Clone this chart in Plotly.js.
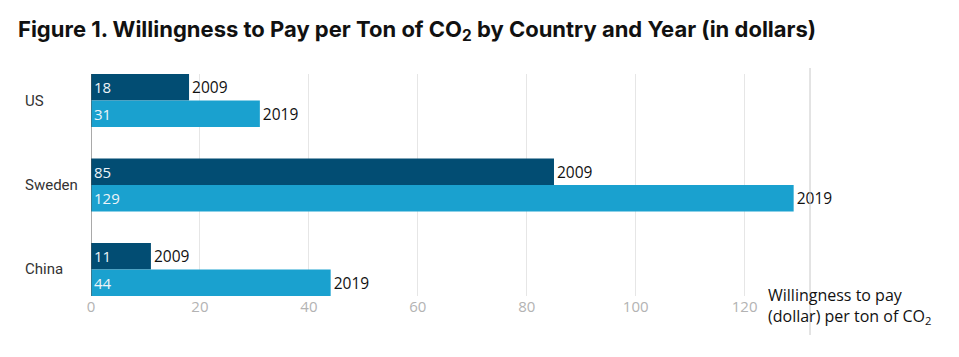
<!DOCTYPE html>
<html><head><meta charset="utf-8">
<script src="https://cdn.plot.ly/plotly-3.0.1.min.js"></script>
<style>html,body{margin:0;padding:0;background:#fff}</style>
</head><body><div id="chart" style="width:959px;height:357px"></div>
<script>
const countries = ['US', 'Sweden', 'China'];
const values2009 = [18, 85, 11];
const values2019 = [31, 129, 44];
const yearLabels = ['2009', '2019'];
const xTicks = [0, 20, 40, 60, 80, 100, 120];

const darkBlue = '#024d73';
const lightBlue = '#1aa1cf';
const W = 0.314;

function barTrace(vals, color, offset, name) {
  return {
    type: 'bar', orientation: 'h', x: vals, y: countries, name: name,
    marker: {color: color, line: {width: 0}},
    width: W, offset: offset,
    text: vals.map(String), textposition: 'inside', insidetextanchor: 'start',
    textfont: {family: 'Open Sans', size: 15, color: '#eef4f8'},
    cliponaxis: false, hoverinfo: 'skip'
  };
}
function labelTrace(vals, offset, label) {
  return {
    type: 'bar', orientation: 'h', x: vals, y: countries,
    marker: {color: 'rgba(0,0,0,0)'},
    width: W, offset: offset,
    text: vals.map(() => label), textposition: 'outside',
    textfont: {family: 'Open Sans', size: 15.5, color: '#111'},
    cliponaxis: false, hoverinfo: 'skip'
  };
}

const data = [
  barTrace(values2009, darkBlue, 0, yearLabels[0]),
  barTrace(values2019, lightBlue, -W, yearLabels[1]),
  labelTrace(values2009, 0, yearLabels[0]),
  labelTrace(values2019, -W, yearLabels[1])
];

const annotations = countries.map(c => ({
  x: (23 - 91) / 719, xref: 'paper', y: c, yref: 'y', text: c, showarrow: false,
  xanchor: 'left', yanchor: 'middle',
  font: {family: 'Roboto', size: 15, color: '#333'}
}));
annotations.push({
  x: (766 - 91) / 719, xref: 'paper', y: (357 - 61 - 306) / 222, yref: 'paper',
  text: 'Willingness to pay<br>(dollar) per ton of CO<sub>2</sub>',
  showarrow: false, xanchor: 'left', yanchor: 'middle', align: 'left',
  font: {family: 'Open Sans', size: 16, color: '#111'}
});

const layout = {
  width: 959, height: 357,
  margin: {l: 91, r: 149, t: 74, b: 61},
  paper_bgcolor: '#fff', plot_bgcolor: '#fff',
  barmode: 'overlay', showlegend: false,
  title: {
    text: 'Figure 1. Willingness to Pay per Ton of CO<sub>2</sub> by Country and Year (in dollars)',
    x: 18 / 959, xanchor: 'left', xref: 'container',
    y: 1 - 29 / 357, yanchor: 'middle', yref: 'container',
    font: {family: 'Inter', size: 22, weight: 700, color: '#111'}
  },
  xaxis: {
    range: [0, 132], tickvals: xTicks, ticktext: xTicks.map(String),
    showgrid: true, gridcolor: '#e6e6e6', gridwidth: 1,
    zeroline: false, showline: false, ticks: '',
    tickfont: {family: 'Open Sans', size: 15, color: '#b3b3b3'}
  },
  yaxis: {
    type: 'category', categoryorder: 'array', categoryarray: ['China', 'Sweden', 'US'],
    range: [-0.315, 2.315], showticklabels: false, showgrid: false,
    zeroline: false, showline: false, ticks: ''
  },
  shapes: [
    {type: 'line', xref: 'x', yref: 'paper', x0: 0, x1: 0, y0: 0, y1: 1,
     line: {color: '#555', width: 1}},
    {type: 'line', xref: 'paper', yref: 'paper', x0: 1, x1: 1,
     y0: (357 - 61 - 335) / 222, y1: (357 - 61 - 68) / 222,
     line: {color: '#c8c8c8', width: 1}}
  ],
  annotations: annotations
};

Plotly.newPlot('chart', data, layout, {displayModeBar: false, staticPlot: true});
</script></body></html>
